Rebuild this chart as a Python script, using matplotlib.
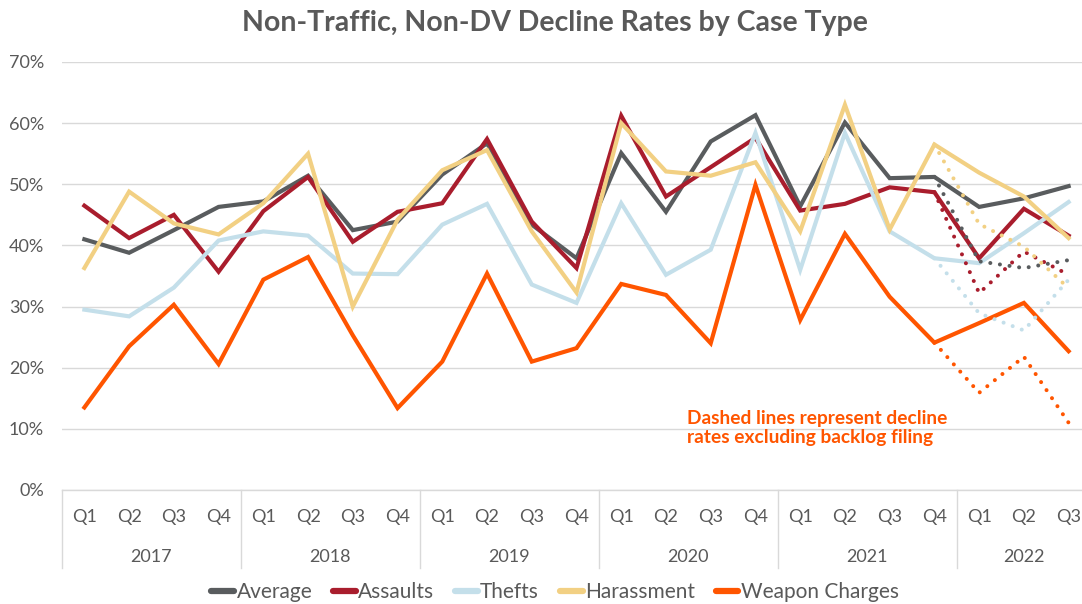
import matplotlib
matplotlib.use("Agg")
import matplotlib.pyplot as plt
import matplotlib.transforms as mtransforms
from matplotlib.lines import Line2D

plt.rcParams['font.family'] = ['Lato', 'DejaVu Sans']

quarters = ['Q1', 'Q2', 'Q3', 'Q4'] * 5 + ['Q1', 'Q2', 'Q3']
years = ['2017', '2018', '2019', '2020', '2021', '2022']

average = [41.0, 38.8, 42.5, 46.3, 47.2, 51.4, 42.5, 43.9, 51.6, 56.7, 43.4, 37.9,
           55.1, 45.5, 57.0, 61.3, 46.4, 60.1, 51.0, 51.2, 46.3, 47.7, 49.7]
assaults = [46.5, 41.2, 45.0, 35.7, 45.6, 51.2, 40.6, 45.5, 46.9, 57.4, 43.9, 36.3,
            61.2, 48.0, 52.8, 57.6, 45.7, 46.8, 49.5, 48.7, 37.9, 46.0, 41.6]
thefts = [29.5, 28.4, 33.1, 40.8, 42.3, 41.6, 35.4, 35.3, 43.4, 46.8, 33.6, 30.6,
          46.9, 35.2, 39.3, 58.4, 36.0, 58.4, 42.3, 37.9, 37.1, 42.0, 47.1]
harassment = [36.3, 48.8, 43.6, 41.8, 46.9, 55.0, 30.0, 44.2, 52.3, 55.6, 42.3, 32.3,
              60.0, 52.1, 51.4, 53.6, 42.3, 63.0, 42.6, 56.5, 51.9, 48.0, 41.2]
weapons = [13.5, 23.5, 30.3, 20.6, 34.4, 38.1, 25.3, 13.4, 21.0, 35.4, 21.0, 23.2,
           33.7, 31.9, 24.0, 49.9, 27.8, 41.9, 31.6, 24.1, 27.3, 30.6, 22.7]

# Excluding backlog filing (Q1-Q3 2022), dotted from Q4 2021
average_ex = [37.4, 36.3, 37.6]
assaults_ex = [32.2, 39.0, 35.2]
thefts_ex = [28.9, 26.1, 34.4]
harassment_ex = [43.5, 39.8, 33.0]
weapons_ex = [15.9, 21.8, 11.0]

names = ['Average', 'Assaults', 'Thefts', 'Harassment', 'Weapon Charges']
colors = ['#595C5E', '#A91D2D', '#C4DFEA', '#F2D083', '#FF5500']
solid = [average, assaults, thefts, harassment, weapons]
dotted = [average_ex, assaults_ex, thefts_ex, harassment_ex, weapons_ex]

W, H = 1082, 604
fig = plt.figure(figsize=(W / 100, H / 100), dpi=100)
ax = fig.add_axes([62 / W, (H - 490) / H, (1091 - 62) / W, (490 - 62) / H])

x = list(range(len(quarters)))
text_col = '#595959'
grid_col = '#D9D9D9'

for s, c in zip(solid, colors):
    ax.plot(x, [v / 100 for v in s], color=c, lw=3.0, solid_joinstyle='miter', zorder=3)

xd = x[19:]
for s, d, c in zip(solid, dotted, colors):
    ax.plot(xd, [s[19] / 100] + [v / 100 for v in d], color=c, lw=2.9,
            linestyle=(0, (0.01, 2.4)), dash_capstyle='round', zorder=3)

ax.set_xlim(-0.5, len(quarters) - 0.5)
ax.set_ylim(0, 0.70)
ax.set_yticks([i / 10 for i in range(8)])
ax.set_yticklabels([f'{i * 10}%' for i in range(8)])
ax.tick_params(axis='y', length=0, pad=13, labelsize=13, labelcolor=text_col)
ax.set_xticks([])
ax.grid(axis='y', color=grid_col, lw=1.0)
ax.set_axisbelow(True)
for sp in ['top', 'right', 'left']:
    ax.spines[sp].set_visible(False)
ax.spines['bottom'].set_color(grid_col)
ax.spines['bottom'].set_linewidth(1.0)

trans = mtransforms.blended_transform_factory(ax.transData, ax.transAxes)
ah = 490 - 62
q_y = -27 / ah
y_y = -67 / ah
sep_y = -78 / ah
for i, q in enumerate(quarters):
    ax.text(i, q_y, q, transform=trans, ha='center', va='center',
            fontsize=13, color=text_col)
for j, yr in enumerate(years):
    start = 4 * j
    end = min(4 * j + 4, len(quarters))
    ax.text((start + end - 1) / 2, y_y, yr, transform=trans, ha='center', va='center',
            fontsize=13, color=text_col)
for b in [-0.5, 3.5, 7.5, 11.5, 15.5, 19.5]:
    ax.add_line(Line2D([b, b], [0, sep_y], transform=trans, color=grid_col,
                       lw=1.0, clip_on=False))

fig.text(555 / W, 1 - 23 / H, 'Non-Traffic, Non-DV Decline Rates by Case Type',
         ha='center', va='center', fontsize=20.5, fontweight='bold', color=text_col)

ax.text(687, 1 - 428 / H, 'Dashed lines represent decline\nrates excluding backlog filing',
        transform=mtransforms.blended_transform_factory(
            mtransforms.IdentityTransform(), fig.transFigure),
        ha='left', va='center', fontsize=13.8, fontweight='bold', color='#FF5500',
        linespacing=1.15)

handles = [Line2D([], [], color=c, lw=4.5, solid_capstyle='round') for c in colors]
fig.legend(handles, names, loc='center', bbox_to_anchor=(555 / W, 1 - 592 / H),
           ncol=5, frameon=False, fontsize=15, labelcolor=text_col,
           handlelength=1.1, handletextpad=0.1, columnspacing=1.0)

fig.savefig('out.png', dpi=100)
